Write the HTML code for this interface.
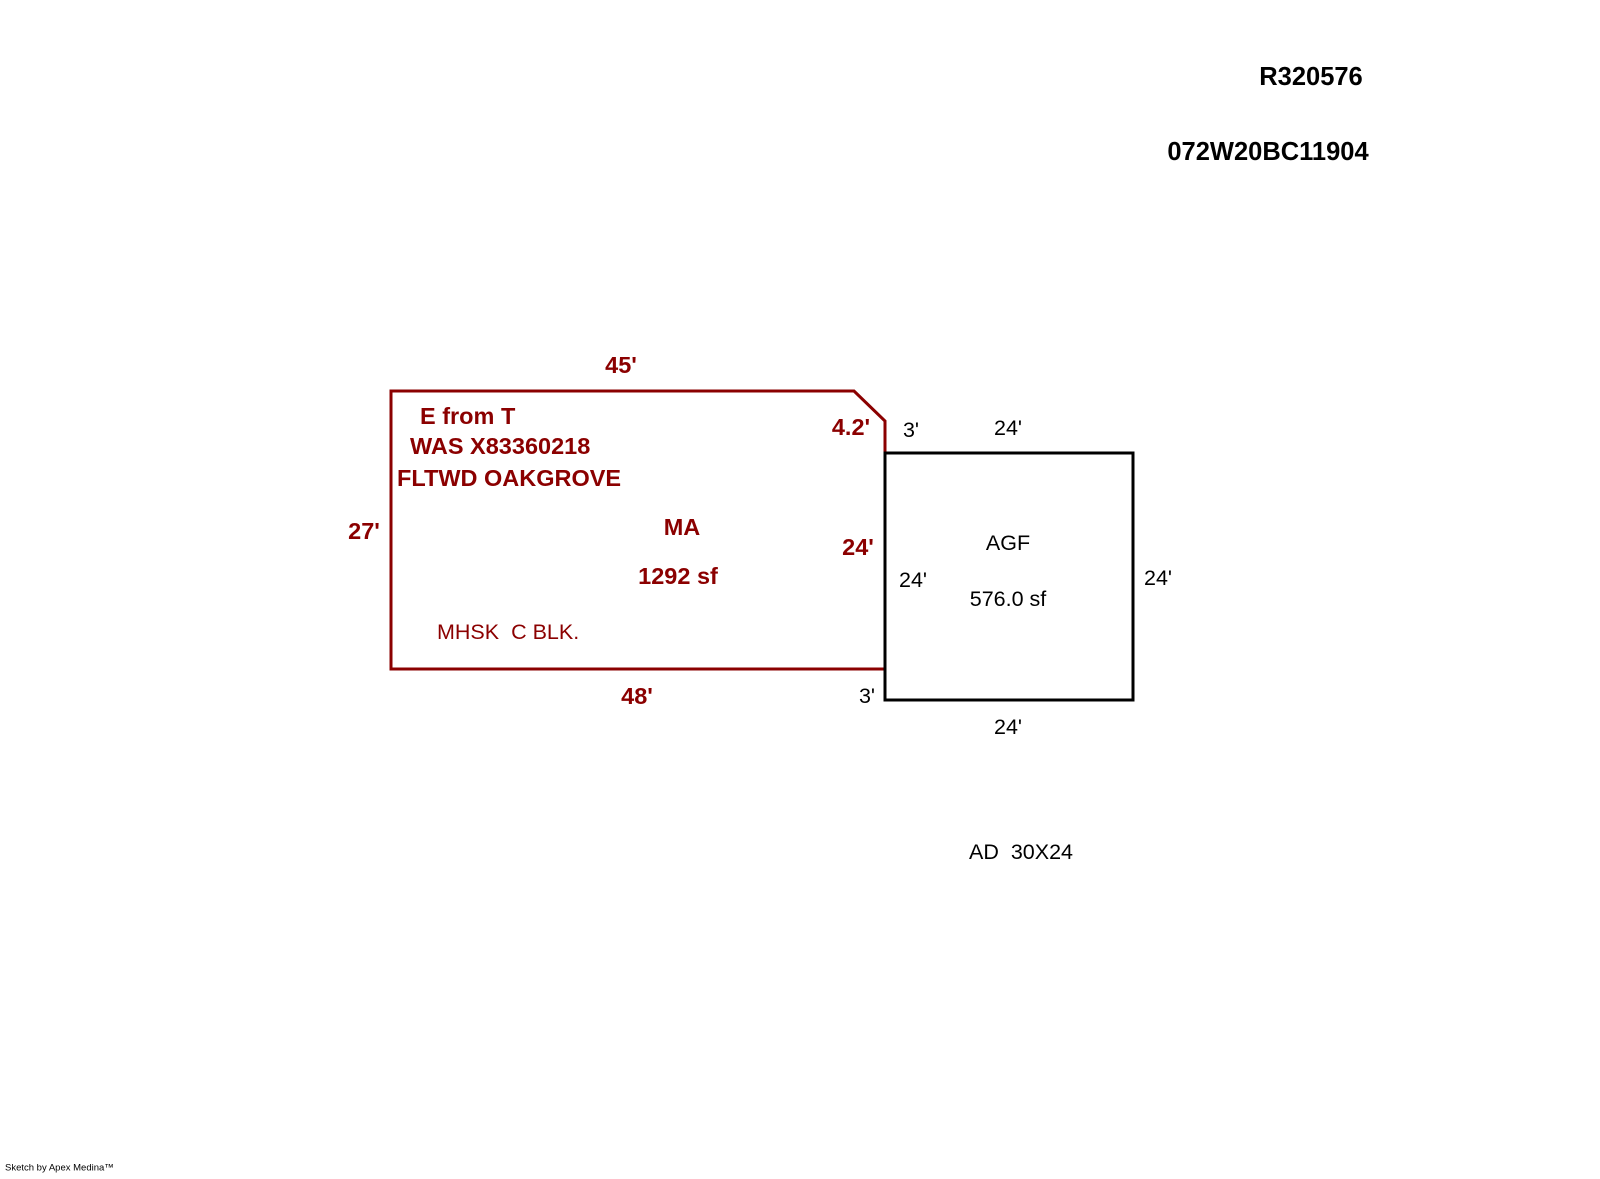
<!DOCTYPE html>
<html><head><style>
body{margin:0;background:#fff;width:1600px;height:1174px;overflow:hidden}
svg text{font-family:"Liberation Sans",Arial,sans-serif;white-space:pre}
.r{fill:#8b0000;font-weight:bold;font-size:23.5px}
.k{fill:#000;font-size:21.5px}
</style></head><body>
<svg width="1600" height="1174" xmlns="http://www.w3.org/2000/svg" xml:space="preserve">
<polygon points="391,391 854,391 885,421 885,669 391,669" fill="none" stroke="#8b0000" stroke-width="3"/>
<rect x="885" y="453" width="248" height="247" fill="none" stroke="#000" stroke-width="3"/>
<g text-anchor="middle" dominant-baseline="central">
<text x="1311" y="77" font-size="25.5" font-weight="bold">R320576</text>
<text x="1268" y="152" font-size="25.5" font-weight="bold">072W20BC11904</text>
<text class="r" x="621" y="365">45'</text>
<text class="r" x="364" y="531">27'</text>
<text class="r" x="682" y="527">MA</text>
<text class="r" x="678" y="576">1292 sf</text>
<text class="r" x="637" y="696">48'</text>
<text class="r" x="851" y="427">4.2'</text>
<text class="r" x="858" y="547">24'</text>
<text class="k" x="911" y="430">3'</text>
<text class="k" x="1008" y="428">24'</text>
<text class="k" x="1008" y="543">AGF</text>
<text class="k" x="913" y="580">24'</text>
<text class="k" x="1008" y="599">576.0 sf</text>
<text class="k" x="1158" y="578">24'</text>
<text class="k" x="867" y="696">3'</text>
<text class="k" x="1008" y="727">24'</text>
<text class="k" x="1021" y="852">AD  30X24</text>
</g>
<g dominant-baseline="central">
<text class="r" x="420" y="416">E from T</text>
<text class="r" x="410" y="446">WAS X83360218</text>
<text class="r" x="397" y="478">FLTWD OAKGROVE</text>
<text x="437" y="632" font-size="21.5" fill="#8b0000">MHSK  C BLK.</text>
<text x="5" y="1168" font-size="9.5" fill="#000">Sketch by Apex Medina™</text>
</g>
</svg>
</body></html>
